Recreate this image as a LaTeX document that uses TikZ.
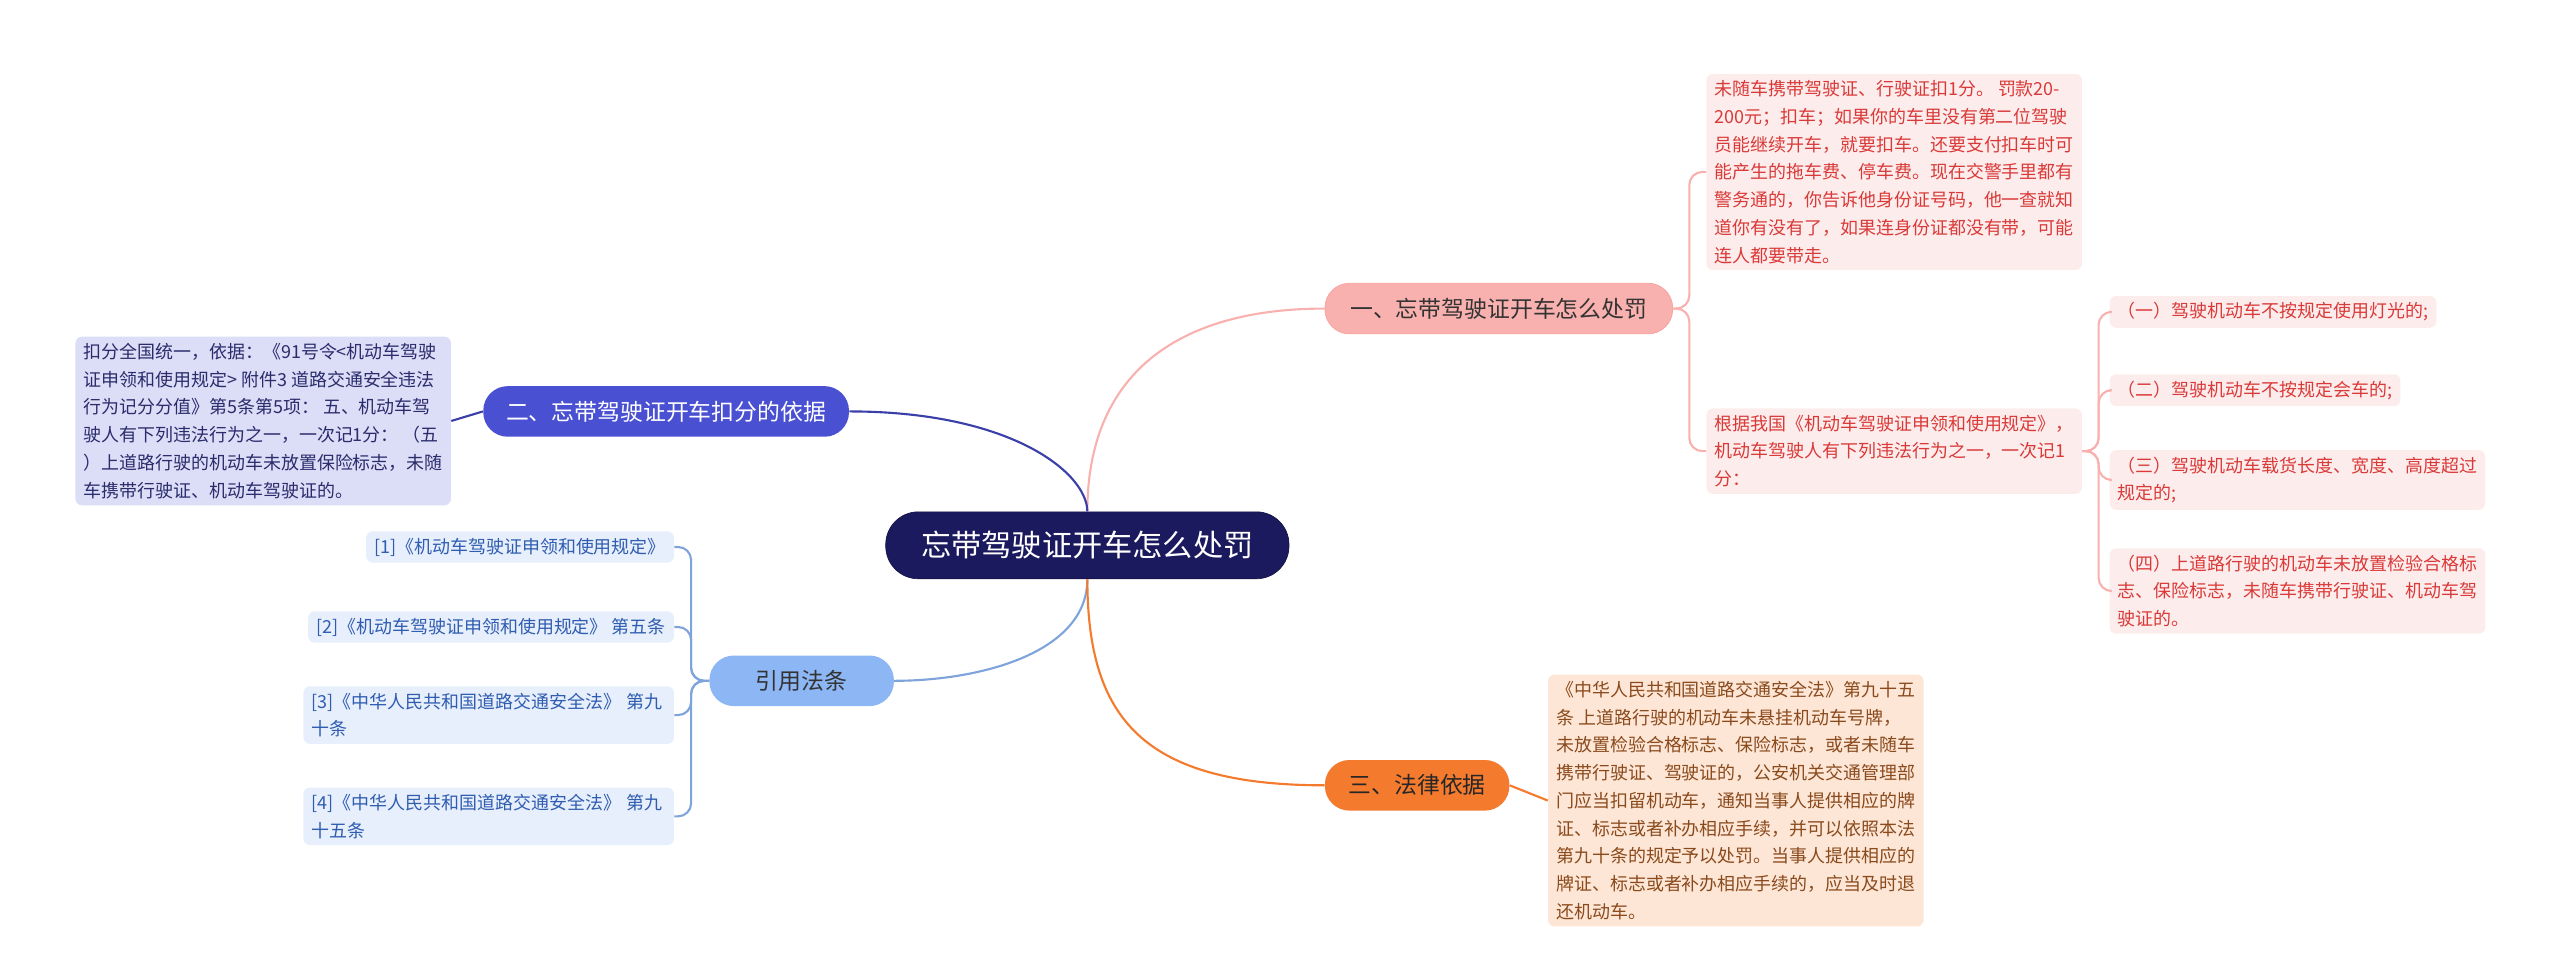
\documentclass[tikz,border=0pt]{standalone}
\usepackage{fontspec}
\setmainfont{Noto Sans CJK SC}
\definecolor{navy}{HTML}{1B1A5E}
\definecolor{pinkA}{HTML}{F8B1AE}
\definecolor{pinkL}{HTML}{FDECEC}
\definecolor{redT}{HTML}{D93A38}
\definecolor{blueB}{HTML}{4A50D2}
\definecolor{lavL}{HTML}{DCDDF6}
\definecolor{navyT}{HTML}{2A2C6C}
\definecolor{blueC}{HTML}{8DB6F4}
\definecolor{blueL}{HTML}{E7EEFC}
\definecolor{blueT}{HTML}{2F5DB0}
\definecolor{orangeD}{HTML}{F47B2E}
\definecolor{peachL}{HTML}{FDE6D6}
\definecolor{brownT}{HTML}{8A4A1C}
\begin{document}
\begin{tikzpicture}[x=1pt,y=-1pt,
  leaf/.style={rounded corners=4pt,inner xsep=5pt,inner ysep=4pt,align=left,font=\fontsize{11}{17}\selectfont},
  topic/.style={rounded corners=15pt,minimum height=31pt,inner xsep=12pt,font=\fontsize{14}{16}\selectfont},
  conn/.style={line width=1.3pt}]
\useasboundingbox (0,0) rectangle (1568,596);
\node[fill=navy,text=white,rounded corners=20pt,minimum height=41pt,minimum width=247pt,font=\fontsize{18.5}{20}\selectfont,draw=navy!70!black] (root) at (666,334) {忘带驾驶证开车怎么处罚};
\node[topic,fill=pinkA,text=black!80,minimum width=213pt,draw=pinkA!90!red] (A) at (918,189) {一、忘带驾驶证开车怎么处罚};
\node[topic,fill=blueB,text=white,minimum width=224pt] (B) at (408,252) {二、忘带驾驶证开车扣分的依据};
\node[topic,fill=blueC,text=black!80,minimum width=113pt] (C) at (491,417) {引用法条};
\node[topic,fill=orangeD,text=black!85,minimum width=113pt] (D) at (868,481) {三、法律依据};

\node[leaf,fill=pinkL,text=redT,anchor=north west] (A1) at (1045,45) {未随车携带驾驶证、行驶证扣1分。 罚款20-\\200元；扣车；如果你的车里没有第二位驾驶\\员能继续开车，就要扣车。还要支付扣车时可\\能产生的拖车费、停车费。现在交警手里都有\\警务通的，你告诉他身份证号码，他一查就知\\道你有没有了，如果连身份证都没有带，可能\\连人都要带走。};
\node[leaf,fill=pinkL,text=redT,anchor=north west] (A2) at (1045,250) {根据我国《机动车驾驶证申领和使用规定》，\\机动车驾驶人有下列违法行为之一，一次记1\\分：};
\node[leaf,fill=pinkL,text=redT,anchor=west] (A21) at (1292,191) {（一）驾驶机动车不按规定使用灯光的;};
\node[leaf,fill=pinkL,text=redT,anchor=west] (A22) at (1292,239) {（二）驾驶机动车不按规定会车的;};
\node[leaf,fill=pinkL,text=redT,anchor=west] (A23) at (1292,294) {（三）驾驶机动车载货长度、宽度、高度超过\\规定的;};
\node[leaf,fill=pinkL,text=redT,anchor=west] (A24) at (1292,362) {（四）上道路行驶的机动车未放置检验合格标\\志、保险标志，未随车携带行驶证、机动车驾\\驶证的。};

\node[leaf,fill=lavL,text=navyT,anchor=north west] (B1) at (46,206) {扣分全国统一，依据：《91号令<机动车驾驶\\证申领和使用规定> 附件3 道路交通安全违法\\行为记分分值》第5条第5项： 五、机动车驾\\驶人有下列违法行为之一，一次记1分： （五\\）上道路行驶的机动车未放置保险标志，未随\\车携带行驶证、机动车驾驶证的。};

\node[leaf,fill=blueL,text=blueT,anchor=east] (C1) at (413,335) {[1]《机动车驾驶证申领和使用规定》};
\node[leaf,fill=blueL,text=blueT,anchor=east] (C2) at (413,384) {[2]《机动车驾驶证申领和使用规定》 第五条};
\node[leaf,fill=blueL,text=blueT,anchor=east,text width=217pt] (C3) at (413,438) {[3]《中华人民共和国道路交通安全法》 第九\\十条};
\node[leaf,fill=blueL,text=blueT,anchor=east,text width=217pt] (C4) at (413,500) {[4]《中华人民共和国道路交通安全法》 第九\\十五条};

\node[leaf,fill=peachL,text=brownT,anchor=north west] (D1) at (948,413) {《中华人民共和国道路交通安全法》第九十五\\条 上道路行驶的机动车未悬挂机动车号牌，\\未放置检验合格标志、保险标志，或者未随车\\携带行驶证、驾驶证的，公安机关交通管理部\\门应当扣留机动车，通知当事人提供相应的牌\\证、标志或者补办相应手续，并可以依照本法\\第九十条的规定予以处罚。当事人提供相应的\\牌证、标志或者补办相应手续的，应当及时退\\还机动车。};

% main branches
\draw[conn,pinkA] (root.north) .. controls (666,230) and (720,189) .. (A.west);
\draw[conn,blueB!80!black] (root.north) .. controls (666,290) and (620,252) .. (B.east);
\draw[conn,blueC!90!black] (root.south) .. controls (666,400) and (600,417) .. (C.east);
\draw[conn,orangeD] (root.south) .. controls (666,440) and (700,481) .. (D.west);
% sub connectors
\draw[conn,pinkA,rounded corners=8pt] (A.east) -- ++(10,0) |- (A1.west);
\draw[conn,pinkA,rounded corners=8pt] (A.east) -- ++(10,0) |- (A2.west);
\foreach \c in {A21,A22,A23,A24}
  \draw[conn,pinkA,rounded corners=8pt] (A2.east) -- ++(10,0) |- (\c.west);
\draw[conn,blueB!80!black] (B.west) -- (B1.east);
\foreach \c in {C1,C2,C3,C4}
  \draw[conn,blueC!90!black,rounded corners=8pt] (C.west) -- ++(-11,0) |- (\c.east);
\draw[conn,orangeD] (D.east) -- (D1.west);
\end{tikzpicture}
\end{document}
